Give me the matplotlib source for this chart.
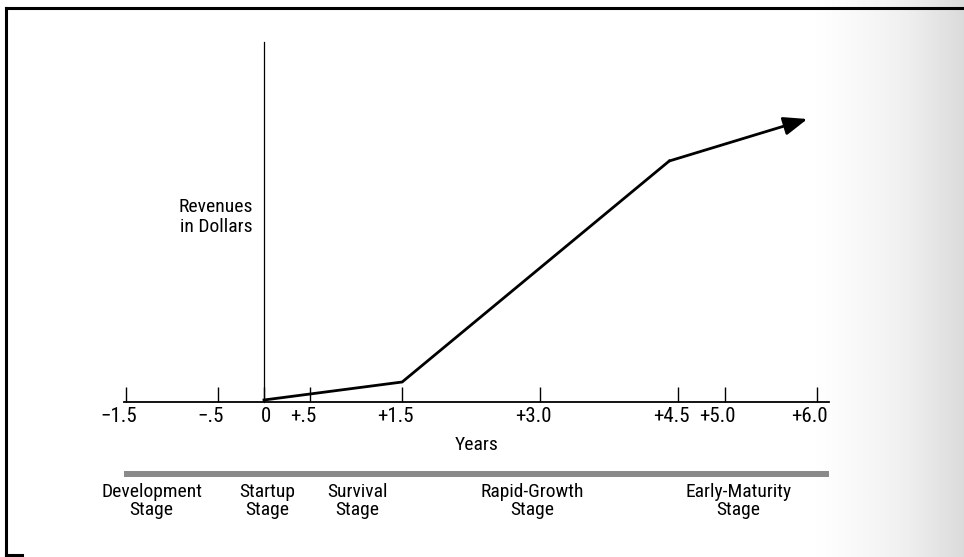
import numpy as np
import matplotlib
matplotlib.use("Agg")
from matplotlib import pyplot as plt
from matplotlib import font_manager
from matplotlib.lines import Line2D
from matplotlib.transforms import ScaledTranslation

# prefer a condensed face, the original uses a narrow grotesque
names = {f.name for f in font_manager.fontManager.ttflist}
narrow = [f for f in font_manager.fontManager.ttflist
	if "Narrow" in f.name or "Condensed" in f.name
	or f.stretch in ("condensed", "semi-condensed", "extra-condensed")]
family, stretch, fs, tfs = "Liberation Sans", "normal", 12, 12.5
for cand in ["Liberation Sans Narrow", "DejaVu Sans Condensed", "Roboto Condensed"]:
	if cand in names:
		family, stretch, fs, tfs = cand, "normal", 14, 15
		break
else:
	if narrow:
		family, stretch, fs, tfs = narrow[0].name, narrow[0].stretch, 14, 15
plt.rcParams['font.family'] = [family, 'DejaVu Sans']
plt.rcParams['font.stretch'] = stretch

# revenue curve (x in years, y in arbitrary revenue units)
years = [0.0, 1.5, 4.4]
revenue = [2, 20, 241]
arrow_end = (5.9, 283)

tick_pos = [-1.5, -0.5, 0, 0.5, 1.5, 3.0, 4.5, 5.0, 6.0]
tick_labels = ["\u22121.5", "\u2212.5", "0", "+.5", "+1.5", "+3.0", "+4.5", "+5.0", "+6.0"]

stage_names = ["Development\nStage", "Startup\nStage", "Survival\nStage",
	"Rapid-Growth\nStage", "Early-Maturity\nStage"]
stage_x = [-1.22, 0.03, 1.01, 2.91, 5.15]

W, H = 964, 557
fig = plt.figure(figsize=(W / 100, H / 100), dpi=100)

# scanned-page shading on the right
bg = fig.add_axes([810 / W, 0, (W - 810) / W, 1], zorder=-1)
grad = np.linspace(0, 1, 200) ** 1.3 * 0.24
bg.imshow(np.tile(grad, (10, 1)), aspect="auto", cmap="Greys", vmin=0, vmax=1,
	extent=(0, 1, 0, 1))
bg.axis("off")

x0, dx = 264, 92.1
xlim = (-1.6, 6.3)
left = x0 + dx * xlim[0]
right = x0 + dx * xlim[1]
ax = fig.add_axes([left / W, 0, (right - left) / W, 1])
ax.set_facecolor("none")
ax.set_xlim(*xlim)
ax.set_ylim(-155, 402)

for s in ["top", "right"]:
	ax.spines[s].set_visible(False)
ax.spines["bottom"].set_position(("data", 0))
ax.spines["left"].set_position(("data", 0))
ax.spines["bottom"].set_bounds(-1.52, 6.14)
ax.spines["left"].set_bounds(0, 360)
ax.spines["bottom"].set_linewidth(1.3)
ax.spines["left"].set_linewidth(0.9)

ax.set_xticks(tick_pos)
ax.set_xticklabels([])
ax.tick_params(axis="x", direction="in", length=11, width=1)
ax.set_yticks([])

# labels: the digits sit under the tick, the sign hangs to the left
for xp, lab in zip(tick_pos, tick_labels):
	shift = 0.02 if lab == "0" else -0.07
	tr = ax.transData + ScaledTranslation(shift, 0, fig.dpi_scale_trans)
	ax.text(xp, -14, lab, transform=tr, ha="center", va="center", fontsize=tfs)

ax.plot(years, revenue, color="black", lw=2.0, solid_joinstyle="miter")
ax.annotate("", xy=arrow_end, xytext=(years[-1], revenue[-1]),
	arrowprops=dict(arrowstyle="-|>,head_length=0.9,head_width=0.35", lw=2.0,
		color="black", mutation_scale=16, shrinkA=0, shrinkB=0))

ax.text(-0.52, 185, "Revenues\nin Dollars", ha="center", va="center",
	fontsize=fs, linespacing=1.15)
ax.text(2.31, -43, "Years", ha="center", va="center", fontsize=fs)

# stage bar
ax.barh(-72, 6.14 + 1.52, left=-1.52, height=6, color="#8a8a8a")
for xs, name in zip(stage_x, stage_names):
	ax.text(xs, -99, name, ha="center", va="center", fontsize=fs, linespacing=1.05)

# page frame
fig.add_artist(Line2D([6 / W, 1], [1 - 8 / H, 1 - 8 / H], color="black", lw=2.2))
fig.add_artist(Line2D([6 / W, 6 / W], [1 - 8 / H, 2 / H], color="black", lw=2.2))
fig.add_artist(Line2D([6 / W, 22 / W], [2 / H, 2 / H], color="black", lw=2.2))

fig.savefig("out.png", dpi=100)
